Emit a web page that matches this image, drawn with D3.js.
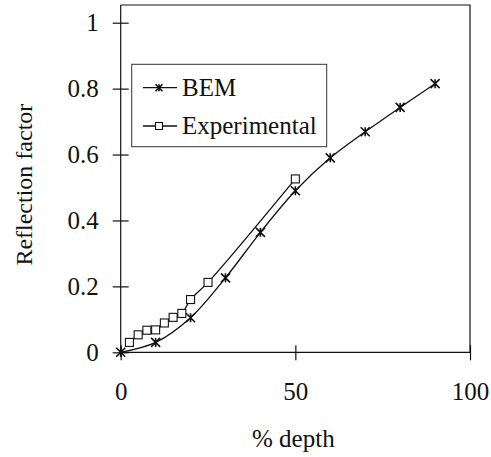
<!DOCTYPE html>
<html>
<head>
<meta charset="utf-8">
<script src="https://cdn.jsdelivr.net/npm/d3@7"></script>
</head>
<body style="margin:0;background:#fff">
<svg id="chart" width="491" height="457" style="display:block"></svg>
<script>
// Reflection factor against % depth
const bemDepth = [0, 10, 20, 30, 40, 50, 60, 70, 80, 90];
const bemReflection = [0, 0.03, 0.105, 0.226, 0.364, 0.49, 0.59, 0.669, 0.743, 0.815];

const expDepth = [2.5, 5, 7.5, 10, 12.5, 15, 17.5, 20, 25, 50];
const expReflection = [0.03, 0.053, 0.067, 0.068, 0.089, 0.106, 0.118, 0.16, 0.212, 0.526];

const xTicks = [0, 50, 100];
const yTicks = [0, 0.2, 0.4, 0.6, 0.8, 1];
const seriesNames = ["BEM", "Experimental"];

const FONT = "Times New Roman, Liberation Serif, Tinos, serif";
const ink = "#111";

const svg = d3.select("#chart");
const plotLeft = 120.7, plotRight = 470, plotTop = 5, plotBottom = 352.3;

const x = d3.scaleLinear().domain([0, 100]).range([plotLeft, plotRight]);
const y = d3.scaleLinear().domain([0, 1]).range([plotBottom, 22.7]);
const yMax = y.invert(plotTop);

// frame: top and right borders
svg.append("path")
  .attr("d", `M${plotLeft},${y(yMax)}H${plotRight}V${plotBottom}`)
  .attr("fill", "none").attr("stroke", ink).attr("stroke-width", 1.2);

// y axis with ticks crossing the line
const yAxis = svg.append("g").attr("transform", `translate(${plotLeft},0)`)
  .call(d3.axisLeft(y).tickValues(yTicks).tickSize(8).tickPadding(14)
    .tickFormat(d => String(+d.toFixed(1))))
  .attr("font-family", FONT).attr("font-size", 25);
yAxis.select(".domain").attr("d", `M0,${y(yMax)}V${plotBottom + 4}`);
yAxis.selectAll(".tick line").attr("x1", 8).attr("x2", -8);
yAxis.selectAll("line, path").attr("stroke", ink).attr("stroke-width", 1.2);
yAxis.selectAll("text").attr("fill", ink);

// x axis
const xAxis = svg.append("g").attr("transform", `translate(0,${plotBottom})`)
  .call(d3.axisBottom(x).tickValues(xTicks).tickSize(8).tickPadding(22))
  .attr("font-family", FONT).attr("font-size", 25);
xAxis.select(".domain").attr("d", `M${plotLeft},0H${plotRight}`);
xAxis.selectAll(".tick line").attr("y1", -7).attr("y2", 8);
xAxis.selectAll("line, path").attr("stroke", ink).attr("stroke-width", 1.2);
xAxis.selectAll("text").attr("fill", ink);

// axis titles
svg.append("text").attr("x", (plotLeft + plotRight) / 2 - 2).attr("y", 447)
  .attr("text-anchor", "middle").attr("font-family", FONT).attr("font-size", 25)
  .attr("fill", ink).text("% depth");
svg.append("text")
  .attr("transform", `translate(32,${(y(yMax) + plotBottom) / 2 + 6}) rotate(-90)`)
  .attr("text-anchor", "middle").attr("font-family", FONT).attr("font-size", 24)
  .attr("fill", ink).text("Reflection factor");

const line = d3.line().x(d => x(d[0])).y(d => y(d[1])).curve(d3.curveCatmullRom.alpha(0.5));
const bem = bemDepth.map((d, i) => [d, bemReflection[i]]);
const exp = expDepth.map((d, i) => [d, expReflection[i]]);

svg.append("path").attr("d", line(exp)).attr("fill", "none")
  .attr("stroke", ink).attr("stroke-width", 1.3);
svg.append("path").attr("d", line(bem)).attr("fill", "none")
  .attr("stroke", ink).attr("stroke-width", 1.3);

// marker shapes
function star(g, cx, cy, r) {
  g.append("path")
    .attr("d", `M${cx - r},${cy - r}L${cx + r},${cy + r}M${cx - r},${cy + r}L${cx + r},${cy - r}M${cx},${cy - r}V${cy + r}`)
    .attr("stroke", ink).attr("stroke-width", 1.6).attr("fill", "none");
}
function square(g, cx, cy, s) {
  g.append("rect").attr("x", cx - s / 2).attr("y", cy - s / 2)
    .attr("width", s).attr("height", s)
    .attr("fill", "#fff").attr("stroke", ink).attr("stroke-width", 1.1);
}

const marks = svg.append("g");
exp.forEach(d => square(marks, x(d[0]), y(d[1]), 8));
bem.forEach(d => star(marks, x(d[0]), y(d[1]), 4.5));

// legend
const lg = svg.append("g");
lg.append("rect").attr("x", 131.7).attr("y", 64.3).attr("width", 195).attr("height", 82.4)
  .attr("fill", "#fff").attr("stroke", "#333").attr("stroke-width", 1);
const rows = [87.7, 126];
rows.forEach((ry, i) => {
  lg.append("line").attr("x1", 143).attr("x2", 177).attr("y1", ry).attr("y2", ry)
    .attr("stroke", ink).attr("stroke-width", 1.3);
  if (i === 0) star(lg, 159, ry, 3.5); else square(lg, 159, ry, 7);
  lg.append("text").attr("x", 182).attr("y", ry + 8)
    .attr("font-family", FONT).attr("font-size", 25).attr("fill", ink).text(seriesNames[i]);
});
</script>
</body>
</html>
